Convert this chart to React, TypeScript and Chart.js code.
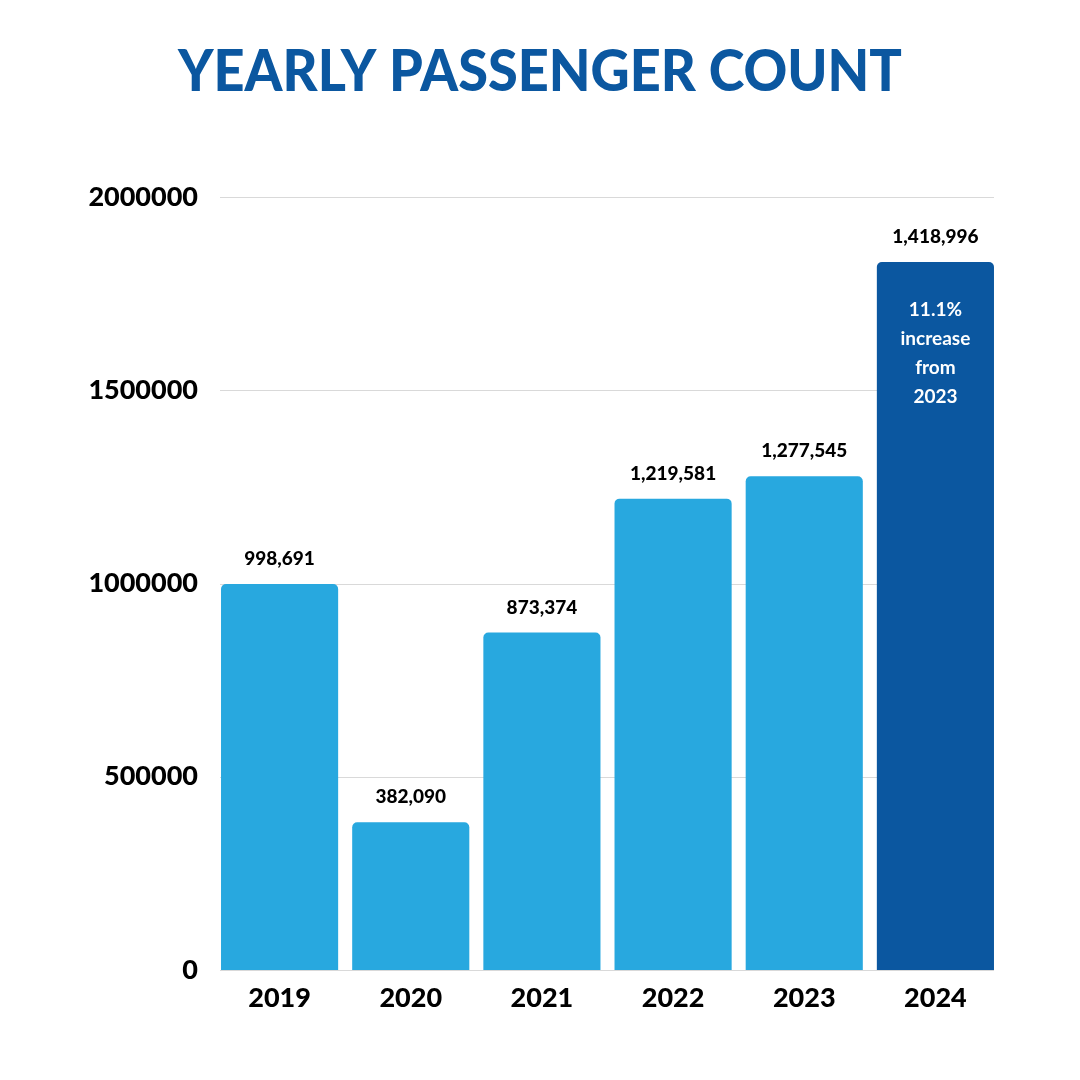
import React, { useEffect, useRef } from "react";
import { Chart, registerables } from "chart.js";

Chart.register(...registerables);

const years = ["2019", "2020", "2021", "2022", "2023", "2024"];
// Passenger counts shown as labels
const passengers = [998691, 382090, 873374, 1219581, 1277545, 1418996];
// Bar heights as drawn in the picture (the 2024 bar is drawn taller than its label)
const barHeights = [998691, 382090, 873374, 1219581, 1277545, 1832000];
const barColors = ["#28A8DF", "#28A8DF", "#28A8DF", "#28A8DF", "#28A8DF", "#0B57A0"];
const highlightNote = ["11.1%", "increase", "from", "2023"];
const yTicks = [0, 500000, 1000000, 1500000, 2000000];
const title = "YEARLY PASSENGER COUNT";

const FONT = "Lato, 'Open Sans', sans-serif";

export default function App() {
  const ref = useRef<HTMLCanvasElement | null>(null);

  useEffect(() => {
    if (!ref.current) return;
    const labelPlugin = {
      id: "labels",
      beforeDatasetsDraw(chart: any) {
        const ctx = chart.ctx;
        const ys = chart.scales.y;
        ctx.save();
        ctx.strokeStyle = "#D9D9D9";
        ctx.lineWidth = 1;
        yTicks.forEach((v) => {
          const py = Math.round(ys.getPixelForValue(v)) + 0.5;
          ctx.beginPath();
          ctx.moveTo(220, py);
          ctx.lineTo(994, py);
          ctx.stroke();
        });
        ctx.restore();
      },
      afterDatasetsDraw(chart: any) {
        const ctx = chart.ctx;
        const meta = chart.getDatasetMeta(0);
        ctx.save();
        ctx.textAlign = "center";
        ctx.textBaseline = "middle";
        ctx.fillStyle = "#000";
        ctx.font = `900 19px ${FONT}`;
        meta.data.forEach((bar: any, i: number) => {
          ctx.fillText(passengers[i].toLocaleString("en-US"), bar.x, bar.y - 25);
        });
        const last = meta.data[meta.data.length - 1];
        ctx.fillStyle = "#fff";
        ctx.font = `bold 19px ${FONT}`;
        highlightNote.forEach((t, k) => {
          ctx.fillText(t, last.x, last.y + 48 + k * 29);
        });
        ctx.restore();
      },
      afterDraw(chart: any) {
        const ctx = chart.ctx;
        ctx.save();
        ctx.textAlign = "center";
        ctx.textBaseline = "middle";
        ctx.fillStyle = "#0B57A0";
        ctx.font = `900 58px ${FONT}`;
        ctx.fillText(title, 540, 72, 724);
        ctx.restore();
      },
    };

    const chart = new Chart(ref.current, {
      type: "bar",
      data: {
        labels: years,
        datasets: [
          {
            data: barHeights,
            backgroundColor: barColors,
            borderRadius: { topLeft: 5, topRight: 5, bottomLeft: 0, bottomRight: 0 },
            borderSkipped: "bottom",
            categoryPercentage: 1,
            barPercentage: 0.893,
          },
        ],
      },
      options: {
        responsive: false,
        animation: false,
        layout: { padding: { top: 197, right: 79, left: 0, bottom: 0 } },
        plugins: {
          legend: { display: false },
          tooltip: { enabled: false },
          title: { display: false },
        },
        scales: {
          x: {
            grid: { display: false, drawTicks: false },
            border: { display: false },
            ticks: {
              color: "#000",
              font: { family: FONT, size: 27, weight: "900" },
              padding: 12,
            },
            afterFit(scale: any) {
              scale.height = 110;
            },
          },
          y: {
            min: 0,
            max: 2000000,
            grid: { display: false, drawTicks: false },
            border: { display: false },
            afterBuildTicks(scale: any) {
              scale.ticks = yTicks.map((v) => ({ value: v }));
            },
            ticks: {
              color: "#000",
              font: { family: FONT, size: 27, weight: "900" },
              padding: 16,
              callback: (v: any) => String(v),
            },
            afterFit(scale: any) {
              scale.width = 214;
            },
          },
        },
      },
      plugins: [labelPlugin],
    });
    return () => chart.destroy();
  }, []);

  return (
    <div style={{ position: "absolute", left: 0, top: 0, width: 1080, height: 1080, background: "#fff" }}>
      <canvas ref={ref} width={1080} height={1080} style={{ width: 1080, height: 1080 }} />
    </div>
  );
}
